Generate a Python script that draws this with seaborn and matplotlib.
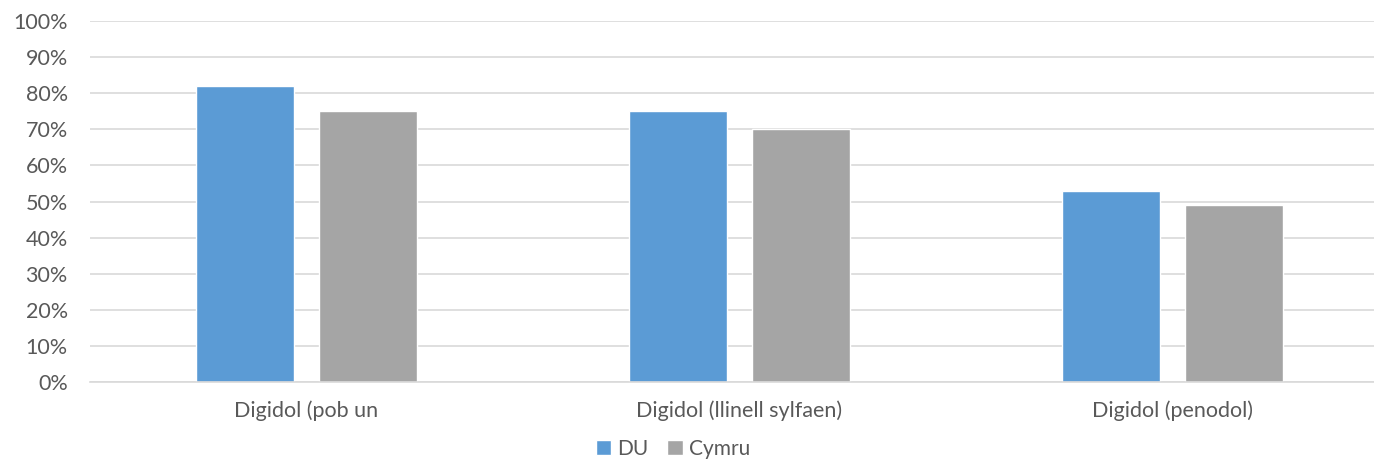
import pandas as pd
import matplotlib.pyplot as plt
import seaborn as sns
from matplotlib.ticker import PercentFormatter

# Chart data
categories = ['Digidol (pob un', 'Digidol (llinell sylfaen)', 'Digidol (penodol)']
series_names = ['DU', 'Cymru']
du_values = [82, 75, 53]
cymru_values = [75, 70, 49]

df = pd.DataFrame({
    'category': categories * 2,
    'series': [series_names[0]] * 3 + [series_names[1]] * 3,
    'value': du_values + cymru_values,
})

sns.set_style('white')
plt.rcParams['font.family'] = ['Lato', 'DejaVu Sans']

fig = plt.figure(figsize=(13.74, 4.61), dpi=100)
ax = fig.add_axes([90 / 1374, 1 - 382 / 461, 1299 / 1374, 361 / 461])

sns.barplot(data=df, x='category', y='value', hue='series',
            palette=['#5B9BD5', '#A5A5A5'], width=0.568, gap=0.21,
            saturation=1, ax=ax)

ax.set_ylim(0, 100)
ax.set_xlim(-0.5, 2.5)
ax.set_yticks(range(0, 101, 10))
ax.yaxis.set_major_formatter(PercentFormatter(decimals=0))
ax.yaxis.grid(True, color='#D9D9D9', linewidth=1.2)
ax.set_axisbelow(True)
for side in ['top', 'right', 'left']:
    ax.spines[side].set_visible(False)
ax.spines['bottom'].set_color('#D9D9D9')
ax.spines['bottom'].set_linewidth(1.2)
ax.tick_params(axis='both', length=0, labelsize=15.5, colors='#595959')
ax.tick_params(axis='x', pad=13)
ax.tick_params(axis='y', pad=16)
ax.set_xlabel('')
ax.set_ylabel('')

ax.legend(loc='center', bbox_to_anchor=(673 / 1374, 1 - 449 / 461),
          bbox_transform=fig.transFigure, ncol=2, frameon=False,
          fontsize=15, labelcolor='#595959', handlelength=0.75,
          handleheight=0.75, handletextpad=0.3, columnspacing=0.9)

fig.savefig('out.png', dpi=100)
